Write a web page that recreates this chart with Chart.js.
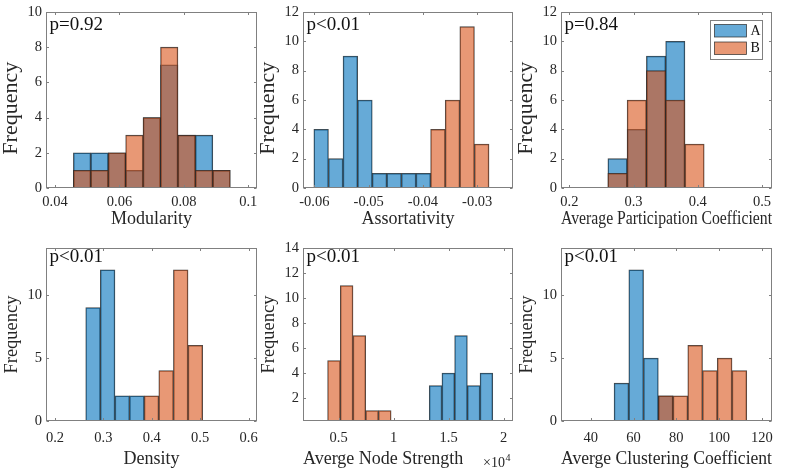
<!DOCTYPE html>
<html>
<head>
<meta charset="utf-8">
<script src="https://cdn.jsdelivr.net/npm/chart.js@4.4.1/dist/chart.umd.min.js"></script>
<style>
html,body{margin:0;padding:0;background:#fff;}
#wrap{position:relative;width:790px;height:474px;overflow:hidden;background:#fff;}
.pane{position:absolute;}
.pane canvas{display:block;}
</style>
</head>
<body>
<div id="wrap"></div>
<script>
// ===================== DATA =====================
const seriesNames = ['A', 'B'];

// Modularity
const modBins = [0.048405, 0.053815, 0.059225, 0.064635, 0.070045, 0.075455, 0.080865, 0.086275, 0.091685];
const modA = [2, 2, 2, 1, 4, 7, 3, 3, 1];
const modB = [1, 1, 2, 3, 4, 8, 3, 1, 1];
const modXTicks = [0.04, 0.06, 0.08, 0.1];
const modXLabels = ['0.04', '0.06', '0.08', '0.1'];
const modYTicks = [0, 2, 4, 6, 8, 10];
const modYLabels = ['0', '2', '4', '6', '8', '10'];
const modP = 'p=0.92';

// Assortativity
const asBins = [-0.058755, -0.056065, -0.053375, -0.050685, -0.047995, -0.045305, -0.042615, -0.039925, -0.037235, -0.034545, -0.031855, -0.029165];
const asA = [4, 2, 9, 6, 1, 1, 1, 1, 0, 0, 0, 0];
const asB = [0, 0, 0, 0, 0, 0, 0, 0, 4, 6, 11, 3];
const asXTicks = [-0.06, -0.05, -0.04, -0.03];
const asXLabels = ['-0.06', '-0.05', '-0.04', '-0.03'];
const asYTicks = [0, 2, 4, 6, 8, 10, 12];
const asYLabels = ['0', '2', '4', '6', '8', '10', '12'];
const asP = 'p<0.01';

// Average Participation Coefficient
const pcBins = [0.275, 0.305, 0.335, 0.365, 0.395];
const pcA = [2, 4, 9, 10, 0];
const pcB = [1, 6, 8, 6, 3];
const pcXTicks = [0.2, 0.3, 0.4, 0.5];
const pcXLabels = ['0.2', '0.3', '0.4', '0.5'];
const pcYTicks = [0, 2, 4, 6, 8, 10, 12];
const pcYLabels = ['0', '2', '4', '6', '8', '10', '12'];
const pcP = 'p=0.84';

// Density
const dnBins = [0.2786, 0.3088, 0.3390, 0.3692, 0.3994, 0.4296, 0.4598, 0.4900];
const dnA = [9, 12, 2, 2, 0, 0, 0, 0];
const dnB = [0, 0, 0, 0, 2, 4, 12, 6];
const dnXTicks = [0.2, 0.3, 0.4, 0.5, 0.6];
const dnXLabels = ['0.2', '0.3', '0.4', '0.5', '0.6'];
const dnYTicks = [0, 5, 10];
const dnYLabels = ['0', '5', '10'];
const dnP = 'p<0.01';

// Averge Node Strength (raw units; axis shown in x10^4)
const nsBins = [4577.5, 5732.5, 6887.5, 8042.5, 9197.5, 10352.5, 11507.5, 12662.5, 13817.5, 14972.5, 16127.5, 17282.5, 18437.5];
const nsA = [0, 0, 0, 0, 0, 0, 0, 0, 3, 4, 7, 3, 4];
const nsB = [5, 11, 7, 1, 1, 0, 0, 0, 0, 0, 0, 0, 0];
const nsXTicks = [5000, 10000, 15000, 20000];
const nsXLabels = ['0.5', '1', '1.5', '2'];
const nsYTicks = [2, 4, 6, 8, 10, 12, 14];
const nsYLabels = ['2', '4', '6', '8', '10', '12', '14'];
const nsP = 'p<0.01';

// Averge Clustering Coefficient
const ccBins = [54.345, 61.235, 68.125, 75.015, 81.905, 88.795, 95.685, 102.575, 109.465];
const ccA = [3, 12, 5, 2, 0, 0, 0, 0, 0];
const ccB = [0, 0, 0, 2, 2, 6, 4, 5, 4];
const ccXTicks = [40, 60, 80, 100, 120];
const ccXLabels = ['40', '60', '80', '100', '120'];
const ccYTicks = [0, 5, 10];
const ccYLabels = ['0', '5', '10'];
const ccP = 'p<0.01';

// ===================== STYLE / LAYOUT =====================
const FONT = "'Liberation Serif', 'Times New Roman', serif";
const BLUE = 'rgba(0,114,189,0.6)';
const ORANGE = 'rgba(217,83,25,0.6)';
const EDGE = 'rgba(38,38,38,0.85)';
const FRAME = '#808080';
const TXT = '#262626';
const TL = 2.5;
const YW = 46;

const rows = [
  { xh: 49, tickPad: 7.2, titleCenter: 31.5, pBase: 17.5, yTitleSize: 22, yTitleText: 'Frequency   ', yTitlePad: 0.5 },
  { xh: 53, tickPad: 10.4, titleCenter: 38, pBase: 14, yTitleSize: 18.5, yTitleText: 'Frequency', yTitlePad: 2.5 }
];

const panels = [
  { id: 'mod', bins: modBins, a: modA, b: modB, xMin: 0.0372, xMax: 0.1027, xTicks: modXTicks, xLabels: modXLabels,
    yMin: 0, yMax: 10, yTicks: modYTicks, yLabels: modYLabels, xTitle: 'Modularity', p: modP, L: 46, T: 12, R: 257, B: 188, row: 0 },
  { id: 'as', bins: asBins, a: asA, b: asB, xMin: -0.0621, xMax: -0.0234, xTicks: asXTicks, xLabels: asXLabels,
    yMin: 0, yMax: 12, yTicks: asYTicks, yLabels: asYLabels, xTitle: 'Assortativity', p: asP, L: 303, T: 12, R: 513, B: 188, row: 0 },
  { id: 'pc', bins: pcBins, a: pcA, b: pcB, xMin: 0.187, xMax: 0.5156, xTicks: pcXTicks, xLabels: pcXLabels,
    yMin: 0, yMax: 12, yTicks: pcYTicks, yLabels: pcYLabels, xTitle: 'Average Participation Coefficient', p: pcP, L: 561, T: 12, R: 772, B: 188, row: 0, legend: true },
  { id: 'dn', bins: dnBins, a: dnA, b: dnB, xMin: 0.1814, xMax: 0.6174, xTicks: dnXTicks, xLabels: dnXLabels,
    yMin: 0, yMax: 13.73, yTicks: dnYTicks, yLabels: dnYLabels, xTitle: 'Density', p: dnP, L: 46, T: 248, R: 257, B: 421, row: 1 },
  { id: 'ns', bins: nsBins, a: nsA, b: nsB, xMin: 1764, xMax: 20855, xTicks: nsXTicks, xLabels: nsXLabels,
    yMin: 0.17, yMax: 14, yTicks: nsYTicks, yLabels: nsYLabels, xTitle: 'Averge Node Strength', p: nsP, L: 303, T: 248, R: 513, B: 421, row: 1, exponent: true, titleAlign: 'start' },
  { id: 'cc', bins: ccBins, a: ccA, b: ccB, xMin: 26.1, xMax: 124.7, xTicks: ccXTicks, xLabels: ccXLabels,
    yMin: 0, yMax: 13.73, yTicks: ccYTicks, yLabels: ccYLabels, xTitle: 'Averge Clustering Coefficient', p: ccP, L: 561, T: 248, R: 772, B: 421, row: 1 }
];

function toPoints(bins, counts) {
  return bins.map((c, i) => ({ x: c, y: counts[i] })).filter(d => d.y > 0);
}

function makeDecor(p, rs) {
  return {
    id: 'decor_' + p.id,
    afterDatasetsDraw(chart) {
      const { ctx, chartArea: a, scales: { x, y } } = chart;
      ctx.save();
      ctx.strokeStyle = FRAME;
      ctx.lineWidth = 1;
      const l = Math.round(a.left) + 0.5, r = Math.round(a.right) - 0.5;
      const t = Math.round(a.top) + 0.5, b = Math.round(a.bottom) - 0.5;
      ctx.strokeRect(l, t, r - l, b - t);
      ctx.beginPath();
      x.ticks.forEach(tk => {
        const px = Math.round(x.getPixelForValue(tk.value)) + 0.5;
        ctx.moveTo(px, b); ctx.lineTo(px, b - TL);
        ctx.moveTo(px, t); ctx.lineTo(px, t + TL);
      });
      y.ticks.forEach(tk => {
        const py = Math.round(y.getPixelForValue(tk.value)) + 0.5;
        ctx.moveTo(l, py); ctx.lineTo(l + TL, py);
        ctx.moveTo(r, py); ctx.lineTo(r - TL, py);
      });
      ctx.stroke();

      // p-value annotation
      ctx.fillStyle = '#111';
      ctx.font = '19px ' + FONT;
      ctx.textAlign = 'left';
      ctx.textBaseline = 'alphabetic';
      ctx.fillText(p.p, a.left + 3.5, a.top + rs.pBase);

      if (p.legend) {
        const bx = Math.round(a.right - 62) + 0.5, by = Math.round(a.top + 8) + 0.5;
        const bw = 52, bh = 39;
        ctx.fillStyle = '#fff';
        ctx.fillRect(bx, by, bw, bh);
        ctx.strokeStyle = FRAME;
        ctx.strokeRect(bx, by, bw, bh);
        chart.data.datasets.forEach((ds, i) => {
          const sy = by + 4 + i * 17.5;
          ctx.fillStyle = ds.backgroundColor;
          ctx.fillRect(bx + 4, sy, 32, 12.5);
          ctx.strokeStyle = EDGE;
          ctx.lineWidth = 0.8;
          ctx.strokeRect(bx + 4, sy, 32, 12.5);
          ctx.fillStyle = '#111';
          ctx.font = '14px ' + FONT;
          ctx.textBaseline = 'middle';
          ctx.fillText(ds.label, bx + 40, sy + 6.5);
        });
      }

      if (p.exponent) {
        ctx.fillStyle = TXT;
        ctx.textAlign = 'right';
        ctx.textBaseline = 'alphabetic';
        ctx.font = '14px ' + FONT;
        ctx.fillText('\u00d710', a.right - 8, a.bottom + 46);
        ctx.textAlign = 'left';
        ctx.font = '10px ' + FONT;
        ctx.fillText('4', a.right - 7.5, a.bottom + 40);
      }
      ctx.restore();
    }
  };
}

const wrap = document.getElementById('wrap');

panels.forEach(p => {
  const rs = rows[p.row];
  const padTop = 12, padRight = 14;
  const W = YW + (p.R - p.L) + padRight;
  const H = padTop + (p.B - p.T) + rs.xh;
  const div = document.createElement('div');
  div.className = 'pane';
  div.style.left = (p.L - YW) + 'px';
  div.style.top = (p.T - padTop) + 'px';
  div.style.width = W + 'px';
  div.style.height = H + 'px';
  const cv = document.createElement('canvas');
  cv.width = W; cv.height = H;
  cv.style.width = W + 'px'; cv.style.height = H + 'px';
  div.appendChild(cv);
  wrap.appendChild(div);

  const tickFont = { family: FONT, size: 14.5, lineHeight: 1 };
  const xTitleSize = 18;

  new Chart(cv.getContext('2d'), {
    type: 'bar',
    data: {
      datasets: [
        { label: seriesNames[0], data: toPoints(p.bins, p.a), backgroundColor: BLUE, borderColor: EDGE,
          borderWidth: 0.8, grouped: false, order: 2, barPercentage: 1, categoryPercentage: 1,
          clip: { left: 2, right: 2, top: 2, bottom: 0 } },
        { label: seriesNames[1], data: toPoints(p.bins, p.b), backgroundColor: ORANGE, borderColor: EDGE,
          borderWidth: 0.8, grouped: false, order: 1, barPercentage: 1, categoryPercentage: 1,
          clip: { left: 2, right: 2, top: 2, bottom: 0 } }
      ]
    },
    options: {
      responsive: false,
      maintainAspectRatio: false,
      animation: false,
      devicePixelRatio: 1,
      events: [],
      layout: { padding: { left: 0, top: padTop, right: padRight, bottom: 0 } },
      plugins: { legend: { display: false }, tooltip: { enabled: false }, title: { display: false } },
      scales: {
        x: {
          type: 'linear', min: p.xMin, max: p.xMax, offset: false, bounds: 'data',
          grid: { display: false, drawTicks: false, offset: false, tickLength: 0 },
          border: { display: false },
          ticks: {
            font: tickFont, color: TXT, padding: rs.tickPad, autoSkip: false, maxRotation: 0, minRotation: 0,
            callback: (v, i) => p.xLabels[i]
          },
          afterBuildTicks: s => { s.ticks = p.xTicks.map(v => ({ value: v })); },
          afterFit: s => { s.height = rs.xh; },
          title: {
            display: true, text: p.xTitle, color: TXT, align: p.titleAlign || 'center',
            font: { family: FONT, size: xTitleSize, lineHeight: 1 },
            padding: { top: 0, bottom: rs.xh - rs.titleCenter - xTitleSize / 2 }
          }
        },
        y: {
          type: 'linear', min: p.yMin, max: p.yMax, beginAtZero: false, bounds: 'data',
          grid: { display: false, drawTicks: false, tickLength: 0 },
          border: { display: false },
          ticks: {
            font: tickFont, color: TXT, padding: 4, autoSkip: false,
            callback: (v, i) => p.yLabels[i]
          },
          afterBuildTicks: s => { s.ticks = p.yTicks.map(v => ({ value: v })); },
          afterFit: s => { s.width = YW; },
          title: {
            display: true, text: rs.yTitleText, color: TXT,
            font: { family: FONT, size: rs.yTitleSize, lineHeight: 1 },
            padding: { top: rs.yTitlePad, bottom: 0 }
          }
        }
      }
    },
    plugins: [makeDecor(p, rs)]
  });
});
</script>
</body>
</html>
